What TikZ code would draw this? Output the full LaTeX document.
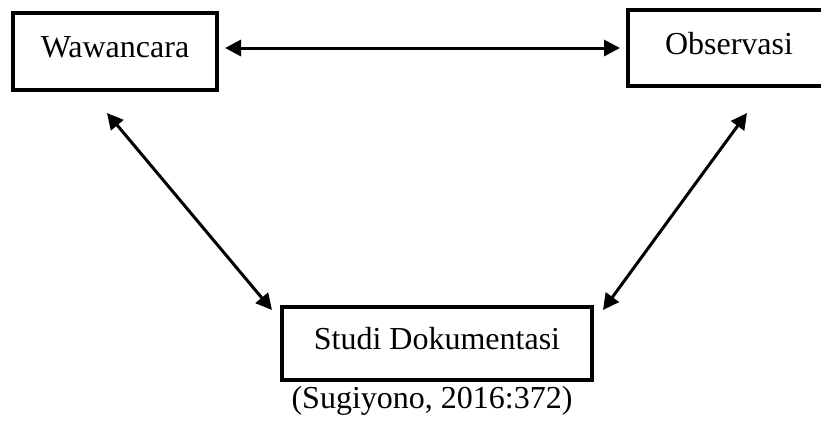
\documentclass[tikz,border=0pt]{standalone}
\usepackage{fontspec}
\setmainfont{Liberation Serif}
\usetikzlibrary{arrows.meta}
\tikzset{
  tbox/.style  ={draw=black,line width=2pt,inner sep=0pt,text height=11pt,text depth=5pt,font=\fontsize{16}{19}\selectfont},
  biarr/.style ={line width=1.5pt,{Triangle[length=8pt,width=8pt]}-{Triangle[length=8pt,width=8pt]}},
  srcnote/.style={inner sep=0pt,font=\fontsize{16}{19}\selectfont},
}
\begin{document}
\begin{tikzpicture}[x=0.5pt,y=-0.5pt]
  \useasboundingbox (0,0) rectangle (821,424);
  % boxes
  \node[tbox,minimum width=102pt,minimum height=38.5pt] (waw) at (115,51.5) {Wawancara};
  \node[tbox,minimum width=101pt,minimum height=38pt] (obs) at (729,48) {Observasi};
  \node[tbox,minimum width=155pt,minimum height=36.5pt] (studi) at (437,343.5) {Studi Dokumentasi};
  \node[srcnote] (src) at (432,401) {(Sugiyono, 2016:372)};
  % connectors
  \draw[biarr,shorten <=3pt,shorten >=3pt] (waw.east |- obs) -- (obs.west);
  \draw[biarr] ([xshift=-4pt,yshift=-10.5pt]waw.south) -- ([xshift=-4pt,yshift=-2.5pt]studi.north west);
  \draw[biarr] ([xshift=9pt,yshift=-12.5pt]obs.south) -- ([xshift=4.5pt,yshift=-2.5pt]studi.north east);
\end{tikzpicture}
\end{document}
